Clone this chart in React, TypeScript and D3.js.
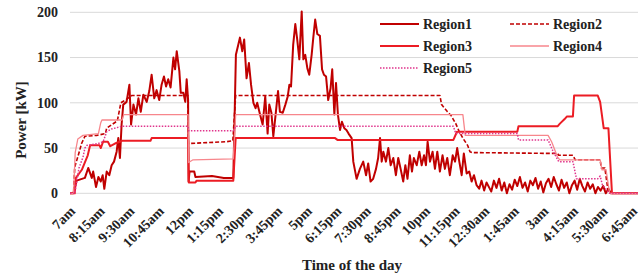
import React from 'react';
import * as d3 from 'd3';

// hours after 7am, kW
const region1: [number, number][] = [
  [0, 0], [0.14, 0], [0.28, 14], [0.63, 17], [0.77, 28], [0.92, 17], [0.98, 24], [1.1, 7], [1.2, 18],
  [1.3, 13], [1.38, 20], [1.45, 5], [1.55, 24], [1.66, 20], [1.76, 31], [1.86, 35], [1.97, 46], [2.04, 61],
  [2.11, 39], [2.18, 76], [2.25, 98], [2.39, 101], [2.51, 120], [2.58, 76], [2.68, 98], [2.79, 87], [2.89, 105],
  [2.99, 90], [3.1, 109], [3.24, 101], [3.35, 113], [3.45, 131], [3.56, 105], [3.66, 114], [3.77, 103],
  [3.87, 120], [3.97, 129], [4.06, 118], [4.15, 126], [4.25, 117], [4.37, 150], [4.44, 137], [4.51, 157],
  [4.62, 135], [4.68, 111], [4.79, 111], [4.87, 101], [4.93, 126], [4.99, 103], [5.01, 13], [5.05, 24],
  [5.25, 24], [5.3, 18], [6.0, 19], [6.5, 17], [6.9, 17],
  [7.01, 153], [7.1, 163], [7.18, 172], [7.28, 157], [7.36, 170], [7.46, 127], [7.56, 144], [7.65, 120],
  [7.75, 100], [7.84, 94], [7.91, 100], [8.03, 87], [8.14, 76], [8.25, 107], [8.35, 66], [8.42, 98],
  [8.51, 89], [8.59, 63], [8.7, 90], [8.79, 113], [8.87, 90], [8.99, 89], [9.1, 98], [9.2, 107], [9.27, 120],
  [9.34, 118], [9.43, 164], [9.52, 187], [9.6, 170], [9.69, 148], [9.79, 201], [9.86, 148], [9.94, 153],
  [10.03, 138], [10.11, 131], [10.21, 153], [10.28, 172], [10.36, 192], [10.45, 176], [10.56, 174],
  [10.65, 137], [10.73, 131], [10.82, 129], [10.91, 103], [11.01, 116], [11.08, 137], [11.17, 87],
  [11.24, 122], [11.32, 87], [11.41, 70], [11.49, 79], [11.59, 72], [11.68, 70], [11.77, 66], [11.9, 61],
  [11.97, 35], [12.11, 16], [12.25, 27], [12.39, 35], [12.51, 20], [12.6, 33], [12.7, 13], [12.81, 16],
  [12.93, 27], [13.02, 39], [13.1, 61], [13.17, 35], [13.24, 46], [13.35, 35], [13.45, 50], [13.55, 31],
  [13.66, 39], [13.77, 20], [13.87, 39], [13.97, 27], [14.08, 13], [14.17, 31], [14.26, 16], [14.36, 42],
  [14.45, 24], [14.53, 39], [14.65, 31], [14.76, 46], [14.86, 31], [14.96, 42], [15.04, 31], [15.11, 57],
  [15.21, 35], [15.32, 46], [15.42, 27], [15.52, 46], [15.63, 24], [15.74, 42], [15.84, 27], [15.94, 39],
  [16.05, 20], [16.17, 42], [16.27, 35], [16.36, 50], [16.45, 35], [16.55, 20], [16.64, 44], [16.76, 22],
  [16.87, 24], [16.97, 13], [17.07, 20], [17.18, 9], [17.29, 5], [17.39, 14], [17.5, 3], [17.6, 12],
  [17.72, 6], [17.8, 2], [17.91, 14], [18.02, 6], [18.13, 16], [18.24, 3], [18.35, 12], [18.46, 0],
  [18.57, 10], [18.68, 4], [18.79, 15], [18.9, 8], [19.01, 18], [19.12, 6], [19.23, 12], [19.34, 2],
  [19.45, 14], [19.56, 9], [19.67, 17], [19.78, 5], [19.89, 13], [20.0, 1], [20.11, 11], [20.22, 16],
  [20.33, 7], [20.44, 18], [20.55, 10], [20.66, 3], [20.77, 15], [20.88, 6], [20.99, 12], [21.1, 0],
  [21.21, 9], [21.32, 14], [21.43, 4], [21.54, 16], [21.65, 8], [21.76, 2], [21.87, 12], [21.98, 5],
  [22.09, 10], [22.2, 0], [22.31, 7], [22.42, 3], [22.53, 8], [22.64, 0], [22.75, 5], [22.85, 0], [24, 0],
];

const region2: [number, number][] = [
  [0, 0], [0.15, 0], [0.2, 29], [0.35, 42], [0.49, 55], [0.63, 63], [1.13, 64], [1.5, 66], [1.55, 72],
  [2.0, 80], [2.15, 100], [2.4, 104], [2.6, 108], [4.98, 108], [5.0, 55], [6.6, 57], [6.88, 58], [7.0, 108],
  [15.63, 108], [15.7, 98], [15.95, 90], [16.1, 86], [16.3, 77], [16.45, 68], [16.6, 61], [16.8, 53],
  [16.9, 46], [17.0, 45], [20.6, 44], [20.65, 42], [21.25, 42], [21.35, 37], [22.4, 37], [22.45, 28],
  [22.6, 28], [22.75, 0], [24, 0],
];

const region3: [number, number][] = [
  [0, 0], [0.2, 0], [0.25, 17], [0.5, 26], [0.75, 42], [0.85, 53], [1.25, 53], [1.3, 50], [1.4, 57],
  [1.6, 57], [1.7, 52], [1.9, 55], [2.1, 57], [2.2, 58], [3.4, 58], [3.45, 61], [4.99, 61], [5.02, 12],
  [5.3, 12], [5.35, 14], [6.9, 14], [7.0, 61], [11.2, 61], [11.3, 59], [16.2, 59], [16.35, 68], [18.9, 68],
  [18.95, 74], [20.6, 74], [20.7, 77], [20.9, 82], [21.0, 85], [21.25, 85], [21.3, 108], [22.3, 108],
  [22.4, 101], [22.55, 72], [22.75, 72], [22.9, 0], [24, 0],
];

const region4: [number, number][] = [
  [0, 0], [0.15, 0], [0.22, 45], [0.33, 60], [0.55, 64], [1.2, 66], [1.3, 78], [1.35, 81], [2.2, 81],
  [2.27, 87], [4.99, 87], [5.01, 34], [5.2, 37], [6.9, 38], [7.0, 87], [16.6, 87], [16.7, 64], [20.2, 64],
  [20.35, 57], [20.6, 40], [20.7, 37], [22.4, 37], [22.48, 26], [22.65, 26], [22.8, 0], [24, 0],
];

const region5: [number, number][] = [
  [0, 0], [0.2, 0], [0.38, 28], [0.55, 40], [0.63, 50], [0.72, 53], [1.2, 55], [1.4, 57], [1.55, 68],
  [1.75, 71], [2.2, 74], [4.99, 74], [5.02, 69], [6.9, 69], [7.0, 74], [16.2, 74], [16.3, 66], [18.9, 66],
  [18.95, 59], [20.2, 59], [20.4, 47], [20.65, 35], [21.25, 35], [21.4, 16], [22.3, 16], [22.4, 19],
  [22.5, 9], [22.8, 0], [24, 0],
];

const timeLabels = [
  '7am', '8:15am', '9:30am', '10:45am', '12pm', '1:15pm', '2:30pm', '3:45pm', '5pm', '6:15pm',
  '7:30pm', '8:45pm', '10pm', '11:15pm', '12:30am', '1:45am', '3am', '4:15am', '5:30am', '6:45am',
];
const yTicks = [0, 50, 100, 150, 200];

const series = [
  { name: 'Region1', data: region1, color: '#c00000', width: 2, dash: '' },
  { name: 'Region2', data: region2, color: '#c00000', width: 1.6, dash: '4,2' },
  { name: 'Region3', data: region3, color: '#ec1c24', width: 2, dash: '' },
  { name: 'Region4', data: region4, color: '#f7868c', width: 1.3, dash: '' },
  { name: 'Region5', data: region5, color: '#e0348c', width: 1.5, dash: '1.5,1.5' },
];

const W = 639;
const H = 276;
const font = '"Liberation Serif", "Times New Roman", serif';

export default function App() {
  const x = d3.scaleLinear().domain([0, 24]).range([70, 638]);
  const y = d3.scaleLinear().domain([0, 200]).range([193.3, 12.3]);
  const line = d3.line<[number, number]>().x(d => x(d[0])).y(d => y(d[1]));

  const legendPos = [
    { lx: 380, ty: 24 }, { lx: 510, ty: 24 },
    { lx: 380, ty: 46 }, { lx: 510, ty: 46 },
    { lx: 380, ty: 68 },
  ];

  return (
    <svg width={W} height={H} style={{ position: 'absolute', left: 0, top: 0, background: '#fff' }}
      fontFamily={font} fontWeight="bold">
      {yTicks.map(t => (
        <g key={t}>
          <line x1={70} x2={638} y1={y(t)} y2={y(t)} stroke="#d9d9d9" strokeWidth={1} />
          <text x={58} y={y(t)} dy="0.35em" textAnchor="end" fontSize={14} fill="#222">{t}</text>
        </g>
      ))}
      {series.map(s => (
        <path key={s.name} d={line(s.data) || ''} fill="none" stroke={s.color}
          strokeWidth={s.width} strokeDasharray={s.dash || undefined} strokeLinejoin="round" />
      ))}
      {timeLabels.map((lab, i) => {
        const tx = x(i * 1.25) + 6;
        const ty = 212;
        return (
          <text key={lab} x={tx} y={ty} textAnchor="end" fontSize={14} fill="#222"
            transform={`rotate(-45,${tx},${ty})`}>{lab}</text>
        );
      })}
      <text x={352} y={270} textAnchor="middle" fontSize={15} fill="#222">Time of the day</text>
      <text x={26} y={120} textAnchor="middle" fontSize={15} fill="#222"
        transform="rotate(-90,26,120)">Power [kW]</text>
      {series.map((s, i) => {
        const p = legendPos[i];
        return (
          <g key={s.name}>
            <line x1={p.lx} x2={p.lx + 39} y1={p.ty} y2={p.ty} stroke={s.color}
              strokeWidth={s.width} strokeDasharray={s.dash || undefined} />
            <text x={p.lx + 43} y={p.ty} dy="0.35em" fontSize={14} fill="#222">{s.name}</text>
          </g>
        );
      })}
    </svg>
  );
}
